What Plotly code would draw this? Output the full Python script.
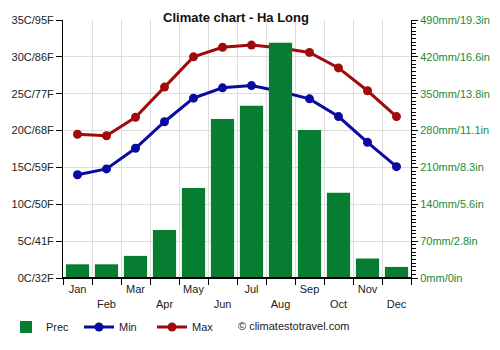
import plotly.graph_objects as go

months = ["Jan", "Feb", "Mar", "Apr", "May", "Jun", "Jul", "Aug", "Sep", "Oct", "Nov", "Dec"]
prec = [26, 26, 42, 91, 171, 302, 327, 447, 281, 162, 37, 21]
tmin = [14.0, 14.8, 17.6, 21.2, 24.4, 25.8, 26.1, 25.3, 24.3, 21.9, 18.4, 15.1]
tmax = [19.5, 19.3, 21.8, 25.9, 30.0, 31.3, 31.6, 31.2, 30.6, 28.5, 25.4, 21.9]
left_ticks = ["0C/32F", "5C/41F", "10C/50F", "15C/59F", "20C/68F", "25C/77F", "30C/86F", "35C/95F"]
right_ticks = ["0mm/0in", "70mm/2.8in", "140mm/5.6in", "210mm/8.3in", "280mm/11.1in",
               "350mm/13.8in", "420mm/16.6in", "490mm/19.3in"]

FONT = "Liberation Sans, Arial, sans-serif"
x = list(range(12))
xt = [m if i % 2 == 0 else "<br>" + m for i, m in enumerate(months)]

fig = go.Figure()
fig.add_trace(go.Bar(x=x, y=prec, name="Prec", marker_color="#077d32", width=0.8,
                     yaxis="y2", marker_line_width=0))
fig.add_trace(go.Scatter(x=x, y=tmin, name="Min", mode="lines+markers",
                         line=dict(color="#0a0aa0", width=3), marker=dict(size=9)))
fig.add_trace(go.Scatter(x=x, y=tmax, name="Max", mode="lines+markers",
                         line=dict(color="#a00a0a", width=3), marker=dict(size=9)))

fig.update_layout(
    width=500, height=350,
    margin=dict(l=63, r=89, t=20, b=72, autoexpand=False),
    paper_bgcolor="white", plot_bgcolor="white",
    font=dict(family=FONT, size=11, color="#222"),
    title=dict(text="<b>Climate chart - Ha Long</b>", x=236/500, xanchor="center",
               y=1 - 17/350, yanchor="middle", font=dict(size=13, color="#111")),
    bargap=0.2,
    xaxis=dict(range=[-0.5, 11.5], tickvals=x, ticktext=xt, showgrid=False,
               ticks="", showline=True, linecolor="black", linewidth=1,
               ticklabelstandoff=1,
               tickfont=dict(size=11, color="#222"),
               minor=dict(tickvals=[i - 0.5 for i in range(13)], showgrid=True,
                          gridcolor="#dddddd", gridwidth=1, ticks="outside",
                          ticklen=6, tickcolor="black")),
    yaxis=dict(range=[0, 35], tickvals=[0, 5, 10, 15, 20, 25, 30, 35], ticktext=left_ticks,
               showgrid=True, gridcolor="#dddddd", gridwidth=1, zeroline=False,
               showline=True, linecolor="black", linewidth=1,
               ticks="outside", ticklen=6, tickcolor="black",
               tickfont=dict(size=11, color="#222")),
    yaxis2=dict(range=[0, 490], overlaying="y", side="right",
                tickvals=[0, 70, 140, 210, 280, 350, 420, 490], ticktext=right_ticks,
                showgrid=False, zeroline=False, showline=True, linecolor="black",
                ticks="outside", ticklen=6, tickcolor="black",
                tickfont=dict(size=11, color="#1a8a3a"),
                minor=dict(dtick=7, tick0=0, ticks="outside", ticklen=4,
                           tickcolor="black", showgrid=False)),
    legend=dict(orientation="h", x=6/500, xanchor="left", xref="container",
                y=1 - 327/350, yanchor="middle", yref="container",
                font=dict(size=11, color="#222"), itemwidth=30, tracegroupgap=0,
                entrywidth=28, entrywidthmode="pixels"),
    showlegend=True,
)
fig.add_annotation(text="© climatestotravel.com", xref="paper", yref="paper",
                   x=(236 - 63) / 348, y=1 - (326 - 20) / 258, xanchor="left", yanchor="middle",
                   showarrow=False, font=dict(size=11, color="#222"))
fig.add_shape(type="line", xref="paper", yref="y", x0=0, x1=1, y0=0, y1=0,
              line=dict(color="black", width=2))
fig.write_html("out.html")
